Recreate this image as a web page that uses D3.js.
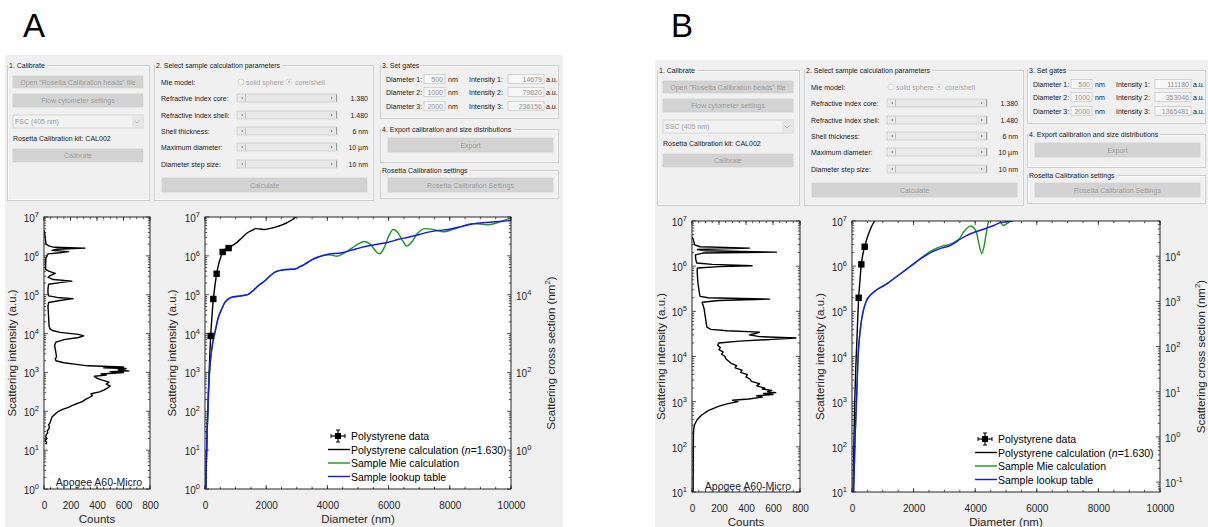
<!DOCTYPE html>
<html>
<head>
<meta charset="utf-8">
<script src="https://cdn.jsdelivr.net/npm/d3@7"></script>
<style>
  body { margin: 0; background: #fff; }
  svg { display: block; }
</style>
</head>
<body>
<script>
// ---- histogram data (log10 scattering intensity vs counts) ----
const histA_logI = [1.15,1.2,1.25,1.3,1.35,1.4,1.45,1.5,1.55,1.6,1.65,1.7,1.75,1.8,1.85,1.9,1.95,2.0,2.05,2.1,2.15,2.2,2.25,2.3,2.35,2.4,2.45,2.5,2.55,2.6,2.65,2.7,2.75,2.8,2.85,2.9,2.93,2.96,3.0,3.02,3.04,3.07,3.1,3.12,3.14,3.17,3.2,3.25,3.3,3.35,3.4,3.5,3.6,3.7,3.78,3.85,3.9,3.94,3.98,4.03,4.08,4.12,4.2,4.4,4.6,4.7,4.8,4.85,4.9,4.93,4.97,5.05,5.15,5.23,5.27,5.31,5.35,5.39,5.45,5.5,5.55,5.6,5.65,5.8,5.95,6.05,6.08,6.11,6.14,6.17,6.2,6.22,6.25,6.3,6.45,6.6,6.65];
const histA_counts = [12,20,8,22,12,18,28,25,38,40,35,45,50,55,60,75,90,110,140,185,215,250,290,310,340,365,355,420,455,480,500,470,490,440,400,380,470,430,600,500,640,560,620,450,600,330,260,150,90,85,95,90,85,80,90,160,260,300,260,120,65,45,38,35,32,30,35,120,220,100,35,30,30,33,35,120,210,70,30,50,85,40,12,12,15,30,120,185,60,100,310,80,40,15,10,5,0];

const histB_logI = [1.0,1.5,2.0,2.3,2.4,2.5,2.6,2.7,2.8,2.85,2.9,2.95,3.0,3.03,3.06,3.1,3.13,3.16,3.18,3.2,3.22,3.25,3.28,3.3,3.35,3.4,3.45,3.5,3.55,3.6,3.65,3.7,3.75,3.8,3.85,3.9,3.95,4.0,4.05,4.1,4.15,4.2,4.25,4.3,4.34,4.38,4.41,4.44,4.48,4.51,4.54,4.57,4.6,4.65,4.75,4.85,4.95,5.05,5.15,5.2,5.24,5.27,5.3,5.33,5.4,5.5,5.6,5.7,5.8,5.9,5.96,5.99,6.01,6.04,6.07,6.15,6.25,6.29,6.31,6.34,6.37,6.4,6.43,6.47,6.56,6.62,6.65];
const histB_counts = [8,9,10,11,13,20,38,70,120,160,200,260,340,300,420,520,480,600,530,620,560,590,520,540,480,500,440,430,400,410,360,370,320,330,290,270,250,245,220,230,200,210,190,200,350,600,770,500,425,470,500,260,140,110,105,100,95,90,80,75,200,575,120,60,55,50,45,42,40,38,40,200,445,150,35,28,25,80,625,100,40,425,60,20,12,5,0];

// ---- calibration curves (diameter nm vs log10 scattering intensity) ----
const psDataA_d = [185,272,381,577,773];
const psDataA_log = [3.94,4.89,5.54,6.10,6.20];
const psCalcA_d = [20,40,70,100,130,160,185,220,272,320,381,450,520,577,650,773,900,1000,1200,1400,1550,1650,1800,1950,2100,2300,2500,2700,2850,3000,3100];
const psCalcA_log = [-0.5,0.6,1.5,2.2,2.9,3.5,3.94,4.35,4.89,5.2,5.54,5.8,5.98,6.1,6.17,6.2,6.27,6.32,6.46,6.6,6.66,6.7,6.69,6.68,6.7,6.74,6.79,6.86,6.93,7.02,7.08];
const mieA_d = [15,40,60,87,120,163,220,327,430,545,650,762,900,1089,1250,1416,1550,1633,1800,1960,2120,2287,2500,2723,2940,3100,3267,3500,3703,4000,4150,4300,4500,4800,5000,5200,5400,5550,5700,5850,6000,6150,6300,6450,6600,6750,6950,7200,7450,7800,8100,8400,8700,9000,9200,9500,9800,10000];
const mieA_log = [-0.5,0.5,1.2,1.88,2.6,3.17,3.6,4.03,4.4,4.63,4.8,4.89,4.94,4.96,4.98,5.01,5.09,5.15,5.27,5.36,5.48,5.58,5.63,5.65,5.66,5.72,5.79,5.9,5.97,6.03,6.02,5.99,6.05,6.2,6.3,6.37,6.3,6.15,6.05,6.2,6.5,6.68,6.6,6.4,6.25,6.35,6.58,6.7,6.68,6.62,6.68,6.76,6.83,6.82,6.8,6.84,6.92,6.98];
const lutA_d = [15,40,60,87,120,163,220,327,430,545,650,762,900,1089,1250,1416,1550,1633,1800,1960,2120,2287,2500,2723,2940,3100,3267,3500,3703,4030,4465,4800,5118,5500,5989,6300,6642,7000,7295,7600,7948,8400,8819,9400,10000];
const lutA_log = [-0.5,0.5,1.2,1.88,2.6,3.17,3.6,4.03,4.4,4.63,4.8,4.89,4.94,4.96,4.98,5.01,5.09,5.15,5.27,5.36,5.48,5.58,5.63,5.65,5.66,5.72,5.79,5.9,5.97,6.04,6.08,6.15,6.22,6.28,6.35,6.42,6.48,6.55,6.61,6.65,6.68,6.76,6.83,6.87,6.91];

const psDataB_d = [217,303,412];
const psDataB_log = [5.3,6.04,6.43];
const psCalcB_d = [20,35,50,65,87,120,162,190,217,260,303,350,412,490,574,650,736,800];
const psCalcB_log = [0.3,1.0,1.6,2.2,2.94,3.7,4.41,4.9,5.3,5.7,6.04,6.25,6.43,6.62,6.78,6.9,7.0,7.07];
const mieB_d = [30,45,65,100,141,170,195,240,303,380,466,560,682,850,1007,1150,1332,1550,1765,2000,2199,2400,2632,2900,3173,3390,3500,3606,3750,3856,3950,4040,4120,4213,4290,4364,4420,4473,4600,4750,4850,4906,5000,5069,5231,5400];
const mieB_log = [0.6,0.9,1.31,2.2,2.94,3.5,3.97,4.4,4.78,5.05,5.23,5.33,5.41,5.5,5.56,5.62,5.71,5.82,5.93,6.05,6.16,6.26,6.36,6.44,6.48,6.56,6.62,6.74,6.85,6.89,6.85,6.75,6.5,6.28,6.45,6.75,6.95,7.1,7.3,7.05,6.95,6.9,6.93,6.96,7.02,7.1];
const lutB_d = [30,45,65,100,141,170,195,240,303,380,466,560,682,850,1007,1150,1332,1550,1765,2000,2199,2400,2632,2900,3173,3350,3498,3700,3931,4150,4364,4600,4798,5000,5177,5400];
const lutB_log = [0.6,0.9,1.31,2.2,2.94,3.5,3.97,4.4,4.78,5.05,5.23,5.33,5.41,5.5,5.56,5.62,5.71,5.82,5.93,6.05,6.15,6.24,6.33,6.4,6.45,6.52,6.59,6.67,6.74,6.79,6.84,6.9,6.96,6.98,7.0,7.05];

// ---- axis ticks / labels ----
const countTicks = [0, 200, 400, 600, 800];
const diamTicks = [0, 2000, 4000, 6000, 8000, 10000];
const legendLabels = ['Polystyrene data', 'Polystyrene calculation', 'Sample Mie calculation', 'Sample lookup table'];

// ---- GUI texts ----
const guiParamLabels = ['Mie model:', 'Refractive index core:', 'Refractive index shell:', 'Shell thickness:', 'Maximum diameter:', 'Diameter step size:'];
const guiParamValues = ['1.380', '1.480', '6  nm', '10  \u00b5m', '10  nm'];
const gateDiameters = ['500', '1000', '2000'];
const gateIntensA = ['14679', '79820', '236156'];
const gateIntensB = ['111180', '353046', '1365481'];

const panels = [
  { letter: 'A', letterX: 23, bg: { x: 5, y: 55, w: 558, h: 472 }, channel: 'FSC (405 nm)', gates: gateIntensA, gateShift: 0,
    hist: { x0: 44, x1: 150, y0: 217, y1: 489, lo: 0, hi: 7, logI: histA_logI, counts: histA_counts, ylx: 16, labelY: 486 },
    main: { x0: 205, x1: 511, y0: 217, y1: 489, lo: 0, hi: 7, ylx: 176, yrx: 555, csOffset: 1, rLabels: [0, 2, 4],
      psData: [psDataA_d, psDataA_log], psCalc: [psCalcA_d, psCalcA_log], mie: [mieA_d, mieA_log], lut: [lutA_d, lutA_log],
      legX: 328, legY: 436 },
    tickY: 509, titleY: 523 },
  { letter: 'B', letterX: 671, bg: { x: 655, y: 60, w: 553, h: 467 }, channel: 'SSC (405 nm)', gates: gateIntensB, gateShift: -3,
    hist: { x0: 692, x1: 800, y0: 221, y1: 492, lo: 1, hi: 7, logI: histB_logI, counts: histB_counts, ylx: 665, labelY: 490 },
    main: { x0: 852, x1: 1160, y0: 221, y1: 492, lo: 1, hi: 7, ylx: 824, yrx: 1205, csOffset: 2.22, rLabels: [-1, 0, 1, 2, 3, 4],
      psData: [psDataB_d, psDataB_log], psCalc: [psCalcB_d, psCalcB_log], mie: [mieB_d, mieB_log], lut: [lutB_d, lutB_log],
      legX: 975, legY: 439 },
    tickY: 512, titleY: 526 }
];

const W = 1208, H = 527;
const FONT = '"Liberation Sans", Arial, Helvetica, sans-serif';
const AX = '#262626';

const svg = d3.select('body').append('svg')
  .attr('width', W).attr('height', H)
  .style('font-family', FONT);

svg.append('rect').attr('width', W).attr('height', H).attr('fill', '#fff');

function pow10Label(g, e, x, y, anchor) {
  const t = g.append('text').attr('x', x).attr('y', y)
    .attr('text-anchor', anchor).attr('font-size', 10).attr('fill', AX);
  t.append('tspan').text('10');
  t.append('tspan').attr('dy', -5).attr('font-size', 7.5).text(e);
}

function decades(lo, hi) {
  const major = [], minor = [];
  for (let e = Math.floor(lo); e <= Math.ceil(hi); e++) {
    for (let k = 1; k < 10; k++) {
      const l = e + Math.log10(k);
      if (l < lo - 1e-6 || l > hi + 1e-6) continue;
      (k === 1 ? major : minor).push(k * Math.pow(10, e));
    }
  }
  return { major, minor };
}

function vTicks(g, y, vals, x, dir, len) {
  g.selectAll(null).data(vals).join('line')
    .attr('x1', x).attr('x2', x + dir * len)
    .attr('y1', d => y(d)).attr('y2', d => y(d))
    .attr('stroke', AX).attr('stroke-width', 0.8);
}

function hTicks(g, x, vals, y, dir, len) {
  g.selectAll(null).data(vals).join('line')
    .attr('y1', y).attr('y2', y + dir * len)
    .attr('x1', d => x(d)).attr('x2', d => x(d))
    .attr('stroke', AX).attr('stroke-width', 0.8);
}

function frame(g, b) {
  g.append('rect').attr('x', b.x0).attr('y', b.y0)
    .attr('width', b.x1 - b.x0).attr('height', b.y1 - b.y0)
    .attr('fill', '#fff');
}

function border(g, b) {
  g.append('rect').attr('x', b.x0).attr('y', b.y0)
    .attr('width', b.x1 - b.x0).attr('height', b.y1 - b.y0)
    .attr('fill', 'none').attr('stroke', AX).attr('stroke-width', 1);
}

function bottomAxis(g, x, b, ticks, tickY) {
  g.append('g')
    .attr('transform', `translate(0,${b.y1})`)
    .call(d3.axisBottom(x).tickValues(ticks).tickFormat(d3.format('d'))
      .tickSizeInner(0).tickSizeOuter(0).tickPadding(0))
    .call(a => a.select('.domain').remove())
    .call(a => a.selectAll('text')
      .attr('dy', null).attr('y', tickY - b.y1)
      .attr('font-size', 10).attr('font-family', FONT).attr('fill', AX));
}

function yLabel(g, x, cy, text) {
  g.append('text').attr('transform', `translate(${x},${cy}) rotate(-90)`)
    .attr('text-anchor', 'middle').attr('font-size', 11.5).attr('fill', AX).text(text);
}

// ---------------- GUI ----------------
function drawGui(g, p) {
  const f = 7;
  const txt = (x, y, s, fill = '#1a1a1a', anchor = 'start') =>
    g.append('text').attr('x', x).attr('y', y).attr('font-size', f)
      .attr('fill', fill).attr('text-anchor', anchor).text(s);

  const fieldset = (x, y, w, h, title) => {
    g.append('rect').attr('x', x + 0.5).attr('y', y + 0.5).attr('width', w).attr('height', h)
      .attr('fill', 'none').attr('stroke', '#cdcdcd');
    g.append('rect').attr('x', x + 1.5).attr('y', y + 1.5).attr('width', w - 2).attr('height', h - 2)
      .attr('fill', 'none').attr('stroke', '#fafafa');
    const t = txt(x + 2, y + 3, title);
    const tw = t.node().getComputedTextLength();
    g.insert('rect', () => t.node()).attr('x', x + 1).attr('y', y - 3)
      .attr('width', tw + 3).attr('height', 7).attr('fill', '#f0f0f0');
  };

  const button = (x, y, w, h, s) => {
    g.append('rect').attr('x', x).attr('y', y).attr('width', w).attr('height', h)
      .attr('fill', '#d3d3d3').attr('stroke', '#cbcbcb').attr('stroke-width', 0.6);
    txt(x + w / 2, y + h / 2 + 2.5, s, '#9d9d9d', 'middle');
  };

  const box = (x, y, w, h, s) => {
    g.append('rect').attr('x', x).attr('y', y).attr('width', w).attr('height', h)
      .attr('fill', '#f7f7f7').attr('stroke', '#bcbcbc').attr('stroke-width', 0.6);
    txt(x + w - 2, y + h / 2 + 2.5, s, '#8f8f8f', 'end');
  };

  // 1. Calibrate
  fieldset(2, 10, 142, 135, '1. Calibrate');
  button(8, 21, 130, 12, 'Open "Rosetta Calibration beads" file');
  button(8, 39, 130, 13, 'Flow cytometer settings');
  g.append('rect').attr('x', 8).attr('y', 60).attr('width', 130).attr('height', 13)
    .attr('fill', '#f2f2f2').attr('stroke', '#c3c3c3').attr('stroke-width', 0.6);
  g.append('rect').attr('x', 127).attr('y', 61).attr('width', 10).attr('height', 11).attr('fill', '#e6e6e6');
  g.append('path').attr('d', 'M129.5,65.5 L132,68 L134.5,65.5').attr('fill', 'none').attr('stroke', '#a8a8a8').attr('stroke-width', 0.7);
  txt(10, 69, p.channel, '#9a9a9a');
  txt(8, 86, 'Rosetta Calibration kit: CAL002');
  button(8, 94, 130, 13, 'Calibrate');

  // 2. parameters
  fieldset(149, 10, 219, 135, '2. Select sample calculation parameters');
  const rowY = [27, 43, 60, 76, 92, 109];
  guiParamLabels.forEach((s, i) => txt(156, rowY[i] + 2.5, s));
  g.append('circle').attr('cx', 236).attr('cy', rowY[0]).attr('r', 3).attr('fill', '#fff').attr('stroke', '#b5b5b5').attr('stroke-width', 0.6);
  txt(241, rowY[0] + 2.5, 'solid sphere', '#a3a3a3');
  g.append('circle').attr('cx', 284).attr('cy', rowY[0]).attr('r', 3).attr('fill', '#fff').attr('stroke', '#c5c5c5').attr('stroke-width', 0.6);
  g.append('circle').attr('cx', 284).attr('cy', rowY[0]).attr('r', 1.2).attr('fill', '#bdbdbd');
  txt(290, rowY[0] + 2.5, 'core/shell', '#a3a3a3');
  rowY.slice(1).forEach((ry, i) => {
    g.append('rect').attr('x', 232).attr('y', ry - 4).attr('width', 100).attr('height', 8)
      .attr('fill', '#e8e8e8').attr('stroke', '#c4c4c4').attr('stroke-width', 0.6);
    g.append('path').attr('d', `M236,${ry} L238,${ry - 1.5} L238,${ry + 1.5} Z`).attr('fill', '#9a9a9a');
    g.append('line').attr('x1', 240.5).attr('x2', 240.5).attr('y1', ry - 3.5).attr('y2', ry + 3.5).attr('stroke', '#a5a5a5').attr('stroke-width', 0.6);
    g.append('path').attr('d', `M328,${ry} L326,${ry - 1.5} L326,${ry + 1.5} Z`).attr('fill', '#9a9a9a');
    g.append('line').attr('x1', 331.5).attr('x2', 331.5).attr('y1', ry - 3.5).attr('y2', ry + 3.5).attr('stroke', '#8a8a8a').attr('stroke-width', 0.8);
    txt(363, ry + 2.5, guiParamValues[i], '#1a1a1a', 'end');
  });
  button(157, 123, 205, 14, 'Calculate');

  // 3. gates
  const s = p.gateShift;
  fieldset(375 + s, 10, 178, 53, '3. Set gates');
  [24, 37, 51].forEach((ry, i) => {
    txt(381 + s, ry + 2.5, `Diameter ${i + 1}:`);
    box(419 + s, ry - 4.5, 21, 9, gateDiameters[i]);
    txt(443 + s, ry + 2.5, 'nm');
    txt(464 + s, ry + 2.5, `Intensity ${i + 1}:`);
    box(503 + s, ry - 4.5, 36, 9, p.gates[i]);
    txt(541 + s, ry + 2.5, 'a.u.');
  });

  // 4. export
  fieldset(375 + s, 74, 178, 33, '4. Export calibration and size distributions');
  button(383 + s, 83, 165, 14, 'Export');

  fieldset(375 + s, 115, 178, 28, 'Rosetta Calibration settings');
  button(383 + s, 123, 165, 14, 'Rosetta Calibration Settings');
}

// ---------------- charts ----------------
function drawHist(g, h, p, id) {
  const x = d3.scaleLinear().domain([0, 800]).range([h.x0, h.x1]);
  const y = d3.scaleLog().domain([Math.pow(10, h.lo), Math.pow(10, h.hi)]).range([h.y1, h.y0]);
  frame(g, h);

  g.append('clipPath').attr('id', id).append('rect')
    .attr('x', h.x0).attr('y', h.y0).attr('width', h.x1 - h.x0).attr('height', h.y1 - h.y0);

  const pts = h.logI.map((l, i) => [h.counts[i], Math.pow(10, l)]);
  g.append('path').datum(pts)
    .attr('clip-path', `url(#${id})`)
    .attr('d', d3.line().x(d => x(d[0])).y(d => y(d[1])))
    .attr('fill', 'none').attr('stroke', '#000').attr('stroke-width', 1.4).attr('stroke-linejoin', 'round');

  const dec = decades(h.lo, h.hi);
  vTicks(g, y, dec.major, h.x0, 1, 4);
  vTicks(g, y, dec.minor, h.x0, 1, 2.2);
  vTicks(g, y, dec.major, h.x1, -1, 4);
  vTicks(g, y, dec.minor, h.x1, -1, 2.2);
  const minorC = d3.range(0, 801, 50);
  hTicks(g, x, minorC, h.y1, -1, 2.2);
  hTicks(g, x, minorC, h.y0, 1, 2.2);
  hTicks(g, x, countTicks, h.y1, -1, 4);
  hTicks(g, x, countTicks, h.y0, 1, 4);
  border(g, h);

  dec.major.forEach(v => pow10Label(g, Math.round(Math.log10(v)), h.x0 - 5, y(v) + 5, 'end'));
  bottomAxis(g, x, h, countTicks, p.tickY);
  g.append('text').attr('x', (h.x0 + h.x1) / 2).attr('y', p.titleY).attr('text-anchor', 'middle')
    .attr('font-size', 11.5).attr('fill', AX).text('Counts');
  yLabel(g, h.ylx, (h.y0 + h.y1) / 2, 'Scattering intensity (a.u.)');
  g.append('text').attr('x', (h.x0 + h.x1) / 2 + 2).attr('y', h.labelY).attr('text-anchor', 'middle')
    .attr('font-size', 10.5).attr('fill', '#15203a').text('Apogee A60-Micro');
}

function drawMain(g, m, p, id) {
  const x = d3.scaleLinear().domain([0, 10000]).range([m.x0, m.x1]);
  const y = d3.scaleLog().domain([Math.pow(10, m.lo), Math.pow(10, m.hi)]).range([m.y1, m.y0]);
  const rlo = m.lo - m.csOffset, rhi = m.hi - m.csOffset;
  const yR = d3.scaleLog().domain([Math.pow(10, rlo), Math.pow(10, rhi)]).range([m.y1, m.y0]);
  frame(g, m);

  g.append('clipPath').attr('id', id).append('rect')
    .attr('x', m.x0).attr('y', m.y0).attr('width', m.x1 - m.x0).attr('height', m.y1 - m.y0);

  const line = d3.line().x(d => x(d[0])).y(d => y(Math.pow(10, d[1]))).curve(d3.curveMonotoneX);
  const series = [
    { data: m.psCalc, color: '#000000' },
    { data: m.mie, color: '#1b961b' },
    { data: m.lut, color: '#1515ff' }
  ];
  series.forEach(s => {
    const pts = s.data[0].map((d, i) => [d, s.data[1][i]]);
    g.append('path').datum(pts)
      .attr('clip-path', `url(#${id})`)
      .attr('d', line)
      .attr('fill', 'none').attr('stroke', s.color).attr('stroke-width', 1.4);
  });

  const sq = m.psData[0].map((d, i) => [d, m.psData[1][i]]);
  g.selectAll(null).data(sq).join('rect')
    .attr('x', d => x(d[0]) - 3.2).attr('y', d => y(Math.pow(10, d[1])) - 3.2)
    .attr('width', 6.4).attr('height', 6.4).attr('fill', '#000');

  // ticks
  const dec = decades(m.lo, m.hi);
  vTicks(g, y, dec.major, m.x0, 1, 4);
  vTicks(g, y, dec.minor, m.x0, 1, 2.2);
  const decR = decades(rlo, rhi);
  vTicks(g, yR, decR.major, m.x1, -1, 4);
  vTicks(g, yR, decR.minor, m.x1, -1, 2.2);
  const minorD = d3.range(0, 10001, 500);
  hTicks(g, x, minorD, m.y1, -1, 2.2);
  hTicks(g, x, minorD, m.y0, 1, 2.2);
  hTicks(g, x, diamTicks, m.y1, -1, 4);
  hTicks(g, x, diamTicks, m.y0, 1, 4);
  border(g, m);

  dec.major.forEach(v => pow10Label(g, Math.round(Math.log10(v)), m.x0 - 5, y(v) + 5, 'end'));
  m.rLabels.forEach(e => pow10Label(g, e, m.x1 + 5, yR(Math.pow(10, e)) + 5, 'start'));
  bottomAxis(g, x, m, diamTicks, p.tickY);
  g.append('text').attr('x', (m.x0 + m.x1) / 2).attr('y', p.titleY).attr('text-anchor', 'middle')
    .attr('font-size', 11.5).attr('fill', AX).text('Diameter (nm)');
  yLabel(g, m.ylx, (m.y0 + m.y1) / 2, 'Scattering intensity (a.u.)');
  const rl = g.append('text').attr('transform', `translate(${m.yrx},${(m.y0 + m.y1) / 2}) rotate(-90)`)
    .attr('text-anchor', 'middle').attr('font-size', 11.5).attr('fill', AX);
  rl.append('tspan').text('Scattering cross section (nm');
  rl.append('tspan').attr('dy', -5).attr('font-size', 8).text('2');
  rl.append('tspan').attr('dy', 5).text(')');

  // legend
  const lg = g.append('g').attr('font-size', 10.5).attr('fill', '#000');
  const rowH = 13.5;
  const mx = m.legX + 10, my = m.legY;
  lg.append('line').attr('x1', mx - 7).attr('x2', mx + 7).attr('y1', my).attr('y2', my).attr('stroke', '#000').attr('stroke-width', 1.2);
  lg.append('line').attr('x1', mx).attr('x2', mx).attr('y1', my - 6).attr('y2', my + 6).attr('stroke', '#000').attr('stroke-width', 1.2);
  [[mx - 7, my - 2, mx - 7, my + 2], [mx + 7, my - 2, mx + 7, my + 2], [mx - 2, my - 6, mx + 2, my - 6], [mx - 2, my + 6, mx + 2, my + 6]]
    .forEach(c => lg.append('line').attr('x1', c[0]).attr('y1', c[1]).attr('x2', c[2]).attr('y2', c[3]).attr('stroke', '#000').attr('stroke-width', 1));
  lg.append('rect').attr('x', mx - 3).attr('y', my - 3).attr('width', 6).attr('height', 6).attr('fill', '#000');
  const tx = m.legX + 23;
  lg.append('text').attr('x', tx).attr('y', my + 4).text(legendLabels[0]);
  const cols = ['#000000', '#1b961b', '#1515ff'];
  cols.forEach((c, i) => {
    const yy = my + rowH * (i + 1);
    lg.append('line').attr('x1', m.legX).attr('x2', m.legX + 22).attr('y1', yy).attr('y2', yy)
      .attr('stroke', c).attr('stroke-width', 1.4);
    const t = lg.append('text').attr('x', tx).attr('y', yy + 4);
    if (i === 0) {
      t.append('tspan').text(legendLabels[1] + ' (');
      t.append('tspan').attr('font-style', 'italic').text('n');
      t.append('tspan').text('=1.630)');
    } else {
      t.text(legendLabels[i + 1]);
    }
  });
}

panels.forEach((p, k) => {
  svg.append('text').attr('x', p.letterX).attr('y', 37).attr('font-size', 33).attr('fill', '#000').text(p.letter);
  svg.append('rect').attr('x', p.bg.x).attr('y', p.bg.y).attr('width', p.bg.w).attr('height', p.bg.h).attr('fill', '#f0f0f0');
  const gui = svg.append('g').attr('transform', `translate(${p.bg.x},${p.bg.y})`);
  drawGui(gui, p);
  drawHist(svg.append('g'), p.hist, p, 'clipH' + k);
  drawMain(svg.append('g'), p.main, p, 'clipM' + k);
});
</script>
</body>
</html>
